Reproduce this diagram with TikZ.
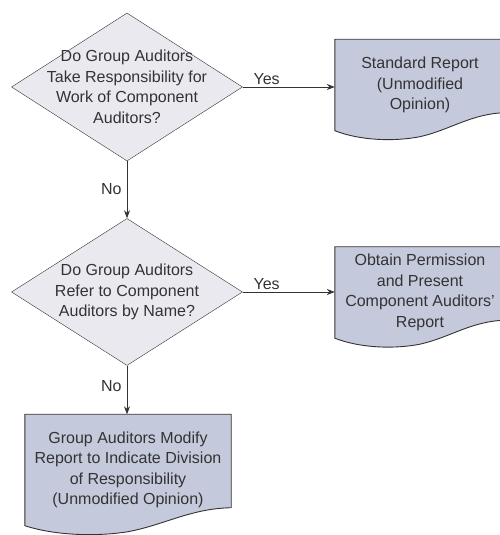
\documentclass[tikz,border=0pt]{standalone}
\usepackage{fontspec}
\setmainfont{Liberation Sans}
\usetikzlibrary{shapes.geometric,arrows.meta,calc,backgrounds}

\definecolor{qfill}{HTML}{EAE9F0}
\definecolor{docfill}{HTML}{C5C9DC}
\definecolor{inkgray}{HTML}{333333}

\tikzset{
  question/.style={draw=inkgray, fill=qfill, shape=diamond, inner sep=0pt},
  qtext/.style={align=center, text=inkgray},
  report/.style={shape=rectangle, inner sep=0pt, align=center, text=inkgray},
  docline/.style={draw=inkgray, fill=docfill, line width=0.9pt},
  flow/.style={draw=inkgray, line width=0.8pt, -{Stealth[length=8pt,width=6pt]}},
  answer/.style={text=inkgray, inner sep=2pt},
}

% report box with a wavy lower edge, drawn round a named node
\newcommand{\docshape}[1]{%
  \path[docline] let \p1=(#1.south west), \p2=(#1.north east), \n1={\x2-\x1} in
    (\p1) -- (\x1,\y2) -- (\p2) -- (\x2,\y1+18pt)
    .. controls (\x1+0.8*\n1,\y1+17pt) and (\x1+0.68*\n1,\y1+1pt) .. (\x1+0.5*\n1,\y1-6pt)
    .. controls (\x1+0.35*\n1,\y1-11pt) and (\x1+0.15*\n1,\y1-10pt) .. (\p1) -- cycle;}

\begin{document}
\begin{tikzpicture}[x=1pt,y=1pt,font=\fontsize{16}{20.5}\selectfont]
\useasboundingbox (0,0) rectangle (500,535);
\clip (0,0) rectangle (500,535);

\node[question, minimum width=231pt, minimum height=148pt] (q1) at (127,448) {};
\node[qtext] (q1txt) at (q1.center) {Do Group Auditors\\Take Responsibility for\\Work of Component\\Auditors?};

\node[question, minimum width=231pt, minimum height=147pt] (q2) at (127,243) {};
\node[qtext] (q2txt) at (q2.center) {Do Group Auditors\\Refer to Component\\Auditors by Name?};

\node[report, minimum width=170pt, minimum height=91pt] (r1) at (420,450) {Standard Report\\(Unmodified\\Opinion)};
\node[report, minimum width=170pt, minimum height=91pt] (r2) at (420,242.5) {Obtain Permission\\and Present\\Component Auditors'\\Report};
\node[report, minimum width=206pt, minimum height=111pt] (r3) at (128,65) {Group Auditors Modify\\Report to Indicate Division\\of Responsibility\\(Unmodified Opinion)};

\begin{scope}[on background layer]
\docshape{r1}
\docshape{r2}
\docshape{r3}
\end{scope}

\path[flow] (q1.east) -- (q1.east -| r1.west) node[answer, pos=0.26, above] {Yes};
\path[flow] (q2.east) -- (q2.east -| r2.west) node[answer, pos=0.26, above] {Yes};

\path[flow] (q1.south) -- (q2.north) node[answer, pos=0.48, left=3pt] {No};
\path[flow] (q2.south) -- (q2.south |- r3.north) node[answer, pos=0.42, left=3pt] {No};
\end{tikzpicture}
\end{document}
